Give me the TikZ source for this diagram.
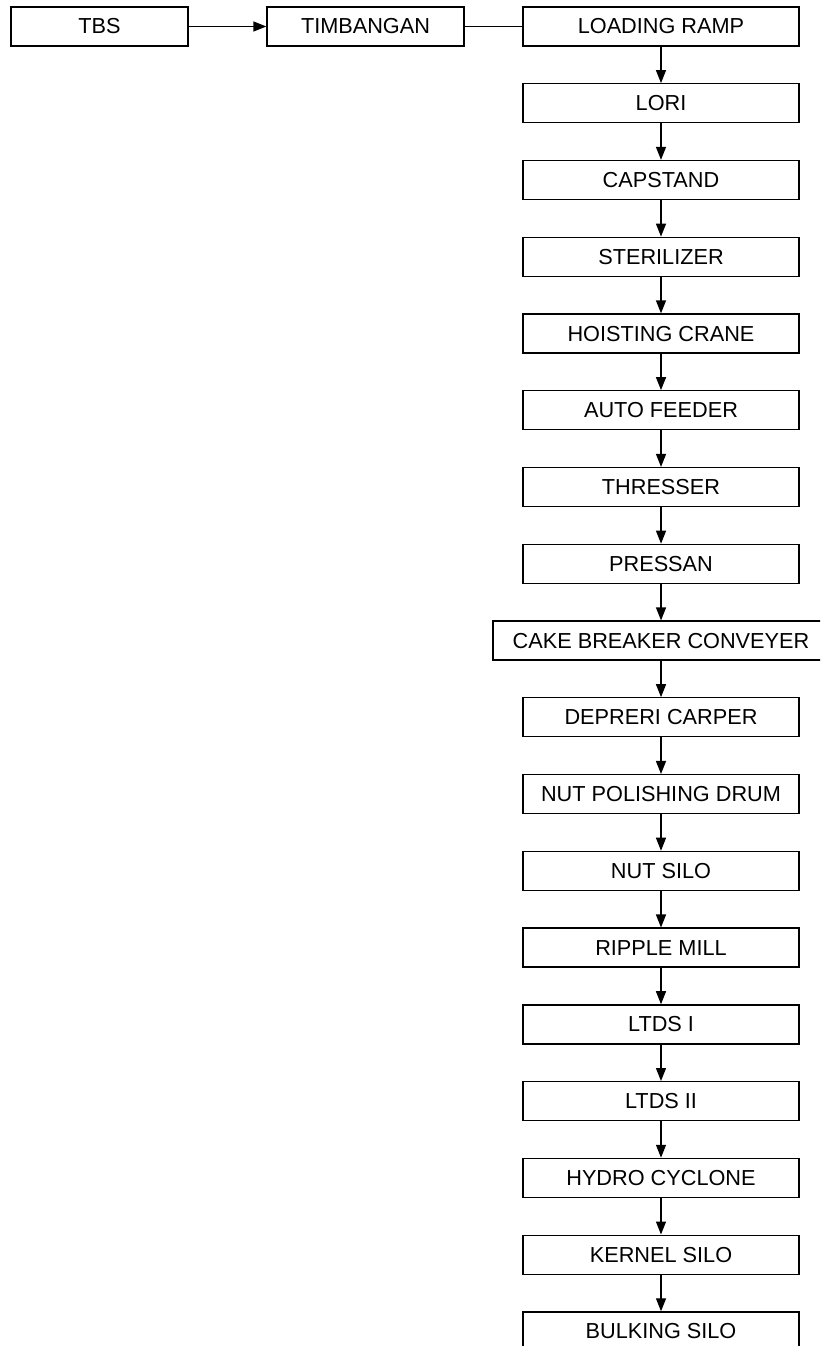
\documentclass[tikz,border=0pt]{standalone}
\usepackage{fontspec}
\setmainfont{Liberation Sans}
\usetikzlibrary{arrows.meta}
\tikzset{
  kotak/.style={draw,line width=1.3pt,minimum height=39pt,inner sep=0pt,
    font=\fontsize{21.7}{26}\selectfont},
  panah/.style={line width=1.3pt,-{Triangle[length=13pt,width=10pt]}},
  garis/.style={line width=1.3pt}
}
\begin{document}
\begin{tikzpicture}[x=1pt,y=-1pt]
  \def\xk{661} \def\yo{26.5} \def\dy{76.76} % kolom proses
  \useasboundingbox (0,0) rectangle (820,1346);
  \clip (0,0) rectangle (820,1346);
  \node[kotak,minimum width=177pt] (tbs) at (99.5,\yo) {TBS};
  \node[kotak,minimum width=197pt] (timbangan) at (365.5,\yo) {TIMBANGAN};
  \foreach \txt/\w [count=\i] in {LOADING RAMP/276,LORI/276,CAPSTAND/276,
      STERILIZER/276,HOISTING CRANE/276,AUTO FEEDER/276,THRESSER/276,
      PRESSAN/276,CAKE BREAKER CONVEYER/336,DEPRERI CARPER/276,
      NUT POLISHING DRUM/276,NUT SILO/276,RIPPLE MILL/276,LTDS I/276,
      LTDS II/276,HYDRO CYCLONE/276,KERNEL SILO/276,BULKING SILO/276}
    \node[kotak,minimum width=\w pt] (s\i) at (\xk,{\yo+(\i-1)*\dy}) {\txt};
  \draw[panah] (tbs) -- (timbangan);
  \draw[garis] (timbangan) -- (s1);
  \foreach \i [evaluate=\i as \j using int(\i+1)] in {1,...,17}
    \draw[panah] (s\i.south) -- (s\j.north);
\end{tikzpicture}
\end{document}
